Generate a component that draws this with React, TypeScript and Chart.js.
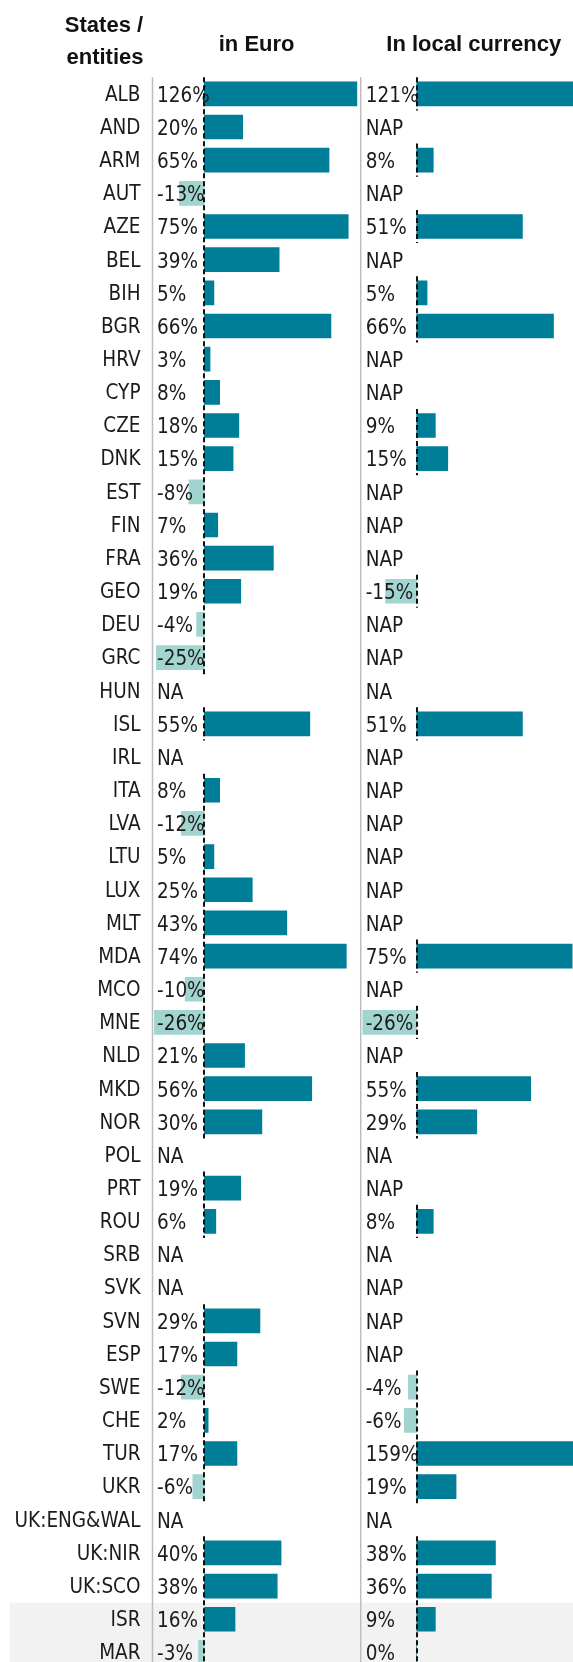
import React, { useEffect, useRef } from 'react';
import { Chart, registerables } from 'chart.js';

Chart.register(...registerables);

// ---------- data ----------
const states: string[] = [
  'ALB', 'AND', 'ARM', 'AUT', 'AZE', 'BEL', 'BIH', 'BGR', 'HRV', 'CYP',
  'CZE', 'DNK', 'EST', 'FIN', 'FRA', 'GEO', 'DEU', 'GRC', 'HUN', 'ISL',
  'IRL', 'ITA', 'LVA', 'LTU', 'LUX', 'MLT', 'MDA', 'MCO', 'MNE', 'NLD',
  'MKD', 'NOR', 'POL', 'PRT', 'ROU', 'SRB', 'SVK', 'SVN', 'ESP', 'SWE',
  'CHE', 'TUR', 'UKR', 'UK:ENG&WAL', 'UK:NIR', 'UK:SCO', 'ISR', 'MAR',
];

// variation in %, or a note ("NA" / "NAP")
const euroValues: (number | string)[] = [
  126, 20, 65, -13, 75, 39, 5, 66, 3, 8,
  18, 15, -8, 7, 36, 19, -4, -25, 'NA', 55,
  'NA', 8, -12, 5, 25, 43, 74, -10, -26, 21,
  56, 30, 'NA', 19, 6, 'NA', 'NA', 29, 17, -12,
  2, 17, -6, 'NA', 40, 38, 16, -3,
];

const localValues: (number | string)[] = [
  121, 'NAP', 8, 'NAP', 51, 'NAP', 5, 66, 'NAP', 'NAP',
  9, 15, 'NAP', 'NAP', 'NAP', -15, 'NAP', 'NAP', 'NA', 51,
  'NAP', 'NAP', 'NAP', 'NAP', 'NAP', 'NAP', 75, 'NAP', -26, 'NAP',
  55, 29, 'NA', 'NAP', 8, 'NA', 'NAP', 'NAP', 'NAP', -4,
  -6, 159, 19, 'NA', 38, 36, 9, 0,
];

const highlightedStates: string[] = ['ISR', 'MAR'];

const columnTitles: string[] = ['in Euro', 'In local currency'];
const rowHeaderLines: string[] = ['States /', 'entities'];

// ---------- styles ----------
const POS_COLOR = '#007d97';
const NEG_COLOR = '#a2d5d0';
const TEXT_COLOR = '#1b1b1b';
const BODY_FONT = "'DejaVu Sans Condensed', 'DejaVu Sans', sans-serif";
const HEAD_FONT = "'Liberation Sans', Arial, sans-serif";

const toNum = (v: number | string) => (typeof v === 'number' ? v : null);
const toText = (v: number | string) => (typeof v === 'number' ? `${v}%` : v);

const barColor = (ctx: any) => {
  const v = ctx.raw;
  return typeof v === 'number' && v < 0 ? NEG_COLOR : POS_COLOR;
};

const tablePlugin = {
  id: 'tablePlugin',
  beforeDraw(chart: any) {
    const { ctx, chartArea, scales } = chart;
    const y = scales.y;
    const xE = scales.xEuro;
    const xL = scales.xLocal;
    const half = (y.getPixelForValue(1) - y.getPixelForValue(0)) / 2;
    ctx.save();
    // highlighted rows
    ctx.fillStyle = '#f2f2f2';
    states.forEach((s, i) => {
      if (highlightedStates.includes(s)) {
        const c = y.getPixelForValue(i);
        ctx.fillRect(9.5, c - half, chart.width - 9.5, half * 2);
      }
    });
    // headers
    ctx.fillStyle = '#111111';
    ctx.font = `bold 22px ${HEAD_FONT}`;
    ctx.textAlign = 'center';
    ctx.textBaseline = 'alphabetic';
    ctx.fillText(rowHeaderLines[0], 104, 32);
    ctx.fillText(rowHeaderLines[1], 105, 64);
    ctx.fillText(columnTitles[0], (xE.left + xE.right) / 2, 51);
    ctx.fillText(columnTitles[1], xL.left + 113, 51);
    // separators
    ctx.strokeStyle = '#bdbdbd';
    ctx.lineWidth = 1.5;
    [xE.left, xL.left].forEach((x: number) => {
      ctx.beginPath();
      ctx.moveTo(x, chartArea.top);
      ctx.lineTo(x, chartArea.bottom);
      ctx.stroke();
    });
    ctx.restore();
  },
  afterDatasetsDraw(chart: any) {
    const { ctx, scales } = chart;
    const y = scales.y;
    const half = (y.getPixelForValue(1) - y.getPixelForValue(0)) / 2;
    const cols = [
      { scale: scales.xEuro, values: euroValues, pad: 4.5 },
      { scale: scales.xLocal, values: localValues, pad: 5 },
    ];
    ctx.save();
    ctx.fillStyle = TEXT_COLOR;
    ctx.font = `20.5px ${BODY_FONT}`;
    ctx.textAlign = 'left';
    ctx.textBaseline = 'middle';
    cols.forEach((col) => {
      col.values.forEach((v, i) => {
        ctx.fillText(toText(v), col.scale.left + col.pad, y.getPixelForValue(i) + 2.5);
      });
    });
    // dashed zero lines (only rows with values), merged into runs
    ctx.strokeStyle = '#111111';
    ctx.lineWidth = 2;
    ctx.setLineDash([5, 3]);
    cols.forEach((col) => {
      const x0 = Math.round(col.scale.getPixelForValue(0));
      let start = -1;
      for (let i = 0; i <= col.values.length; i++) {
        const has = i < col.values.length && typeof col.values[i] === 'number';
        if (has && start < 0) start = i;
        if (!has && start >= 0) {
          ctx.beginPath();
          ctx.moveTo(x0, y.getPixelForValue(start) - half);
          ctx.lineTo(x0, y.getPixelForValue(i - 1) + half);
          ctx.stroke();
          start = -1;
        }
      }
    });
    ctx.restore();
  },
};

const hiddenX = (weight: number, min: number, max: number) => ({
  type: 'linear' as const,
  position: 'bottom' as const,
  stack: 'columns',
  stackWeight: weight,
  min,
  max,
  grid: { display: false, drawTicks: false },
  border: { display: false },
  ticks: { display: false },
  afterFit: (s: any) => {
    s.height = 0;
    s.paddingLeft = 0;
    s.paddingRight = 0;
  },
});

export default function App() {
  const ref = useRef<HTMLCanvasElement>(null);
  useEffect(() => {
    document.body.style.margin = '0';
    const chart = new Chart(ref.current as HTMLCanvasElement, {
      type: 'bar',
      data: {
        labels: states,
        datasets: [
          {
            label: columnTitles[0],
            data: euroValues.map(toNum),
            xAxisID: 'xEuro',
            backgroundColor: barColor,
            barThickness: 24,
            grouped: false,
            clip: { left: 0, right: -3.5, top: 0, bottom: 0 },
          } as any,
          {
            label: columnTitles[1],
            data: localValues.map(toNum),
            xAxisID: 'xLocal',
            backgroundColor: barColor,
            barThickness: 24,
            grouped: false,
          } as any,
        ],
      },
      options: {
        indexAxis: 'y',
        animation: false,
        responsive: false,
        devicePixelRatio: 1,
        layout: { padding: { top: 77.3, left: 0, right: 0, bottom: 0 } },
        plugins: { legend: { display: false }, tooltip: { enabled: false } },
        scales: {
          y: {
            type: 'category',
            position: 'left',
            grid: { display: false, drawTicks: false },
            border: { display: false },
            ticks: {
              autoSkip: false,
              padding: 12,
              labelOffset: 1.5,
              color: TEXT_COLOR,
              font: { family: BODY_FONT, size: 20.5 },
            },
            afterFit: (s: any) => {
              s.width = 152.5;
              s.paddingTop = 0;
              s.paddingBottom = 0;
            },
          },
          xEuro: hiddenX(208.2, -27, 81.5),
          xLocal: hiddenX(212.3, -27, 75.4),
        } as any,
      },
      plugins: [tablePlugin],
    });
    return () => chart.destroy();
  }, []);
  return (
    <div style={{ width: 573, height: 1662, overflow: 'hidden', position: 'relative' }}>
      <canvas ref={ref} width={573} height={1669} style={{ display: 'block', width: 573, height: 1669 }} />
    </div>
  );
}
